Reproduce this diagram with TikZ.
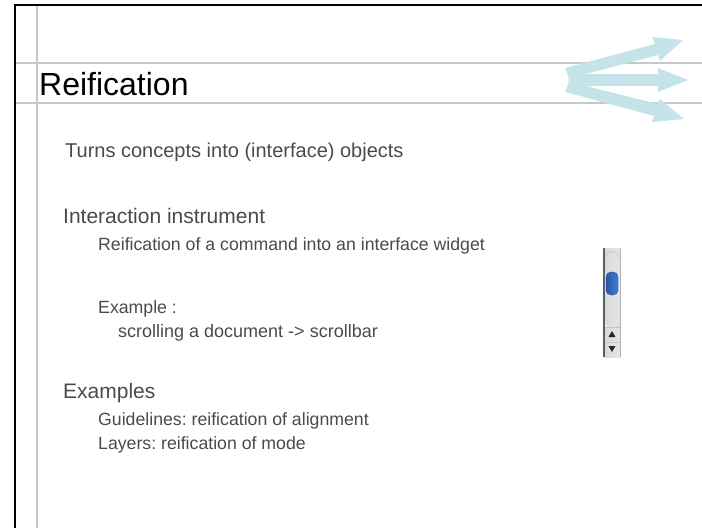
\documentclass[tikz,border=0pt]{standalone}
\usepackage{fontspec}
\setmainfont{Liberation Sans}
\usetikzlibrary{positioning}
\frenchspacing

\definecolor{bodygray}{HTML}{4A4A4A}
\definecolor{rulegray}{HTML}{C8C8C8}
\definecolor{fancyan}{HTML}{C5E4E9}
\definecolor{knobblue}{HTML}{3C7FE0}
\definecolor{knobedge}{HTML}{1F3F9A}
\definecolor{barslate}{HTML}{56606E}

\begin{document}
\begin{tikzpicture}[x=1pt,y=-1pt,
    title/.style={anchor=base west,inner sep=0pt,font=\fontsize{32}{36}\selectfont},
    levelone/.style={anchor=base west,inner sep=0pt,text=bodygray,font=\fontsize{21}{25}\selectfont},
    leveltwo/.style={anchor=base west,inner sep=0pt,text=bodygray,font=\fontsize{17.7}{21}\selectfont},
    levelthree/.style={anchor=base west,inner sep=0pt,text=bodygray,font=\fontsize{18}{22}\selectfont},
    rule/.style={rulegray,line width=1.3pt}]

    \useasboundingbox (0,0) rectangle (702,528);

    % The frame
    \draw[rule] (37,5) -- (37,528);
    \draw[rule] (15,63) -- (702,63);
    \draw[rule] (15,103) -- (702,103);
    \draw[black,line width=2pt] (15,528) -- (15,5) -- (702,5);

    % The fan arrow
    \fill[fancyan] (565,68) -- (655,44) -- (652,37) -- (683,40) -- (660,61)
        -- (658,55) -- (586,74) -- (658,74) -- (658,68) -- (688,80)
        -- (658,92) -- (658,86) -- (586,86) -- (658,104) -- (660,99)
        -- (684,119) -- (652,122) -- (654,116) -- (565,92)
        .. controls (570,80) .. (565,68) -- cycle;

    % The texts
    \node [title] at (39,95) (title) {Reification};
    \node [levelone,font=\fontsize{20}{24}\selectfont] at (65,157) (turns) {Turns concepts into (interface) objects};
    \node [levelone] at (63,223) (instr) {Interaction instrument};
    \node [leveltwo] at (98,250) (widget) {Reification of a command into an interface widget};
    \node [leveltwo] at (98,313) (example) {Example :};
    \node [levelthree] at (118,337) (scroll) {scrolling a document -> scrollbar};
    \node [levelone] at (63,398) (examples) {Examples};
    \node [leveltwo] at (98,425) (guide) {Guidelines: reification of alignment};
    \node [leveltwo] at (98,449) (layers) {Layers: reification of mode};

    % The scrollbar
    \shade[left color=gray!30,middle color=white,right color=gray!20] (604,248) rectangle (620,357);
    \draw[gray!55] (605,258) .. controls (606,249) and (618,249) .. (619,258);
    \shade[left color=gray!15,right color=gray!30] (605,322) .. controls (606,330) and (618,330) .. (619,322) -- (619,327) -- (605,327) -- cycle;
    \draw[gray!45] (604,327) -- (620,327);
    \draw[gray!45] (604,342) -- (620,342);
    \fill[gray!30!black] (612,331) -- (615.5,337) -- (608.5,337) -- cycle;
    \fill[gray!30!black] (608.5,346) -- (615.5,346) -- (612,352) -- cycle;
    \shade[draw=knobedge,left color=knobblue!70!black,middle color=knobblue!55!white,right color=knobblue,rounded corners=5pt]
        (606,272) rectangle (618,295);
    \draw[barslate,line width=1.5pt] (604,248) -- (604,357);
    \draw[gray!60] (620,248) -- (620,357);

\end{tikzpicture}
\end{document}
